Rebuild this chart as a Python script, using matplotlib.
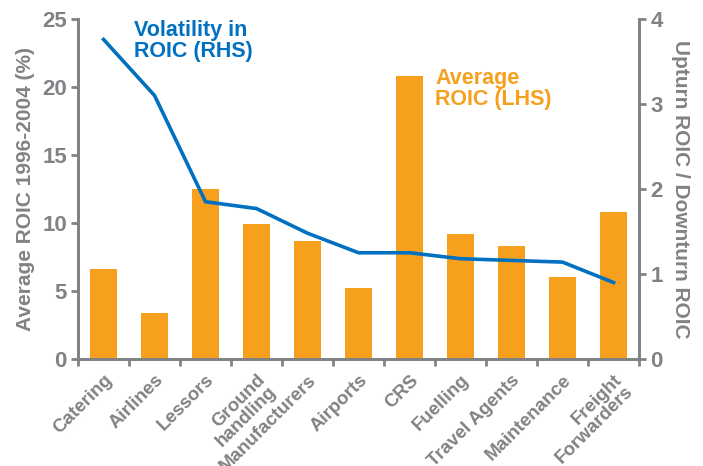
import matplotlib.pyplot as plt
import numpy as np

categories = ["Catering", "Airlines", "Lessors", "Ground\nhandling", "Manufacturers",
              "Airports", "CRS", "Fuelling", "Travel Agents", "Maintenance",
              "Freight\nForwarders"]
avg_roic = [6.6, 3.4, 12.5, 9.9, 8.7, 5.2, 20.8, 9.2, 8.3, 6.0, 10.8]
volatility = [3.76, 3.1, 1.85, 1.77, 1.48, 1.25, 1.25, 1.18, 1.16, 1.14, 0.9]

grey = "#808285"
orange = "#F7A01E"
blue = "#0070C0"

plt.rcParams['font.family'] = ['Liberation Sans', 'DejaVu Sans']
plt.rcParams['font.weight'] = 'bold'

fig = plt.figure(figsize=(7.03, 4.66), dpi=100)
ax = fig.add_axes([0.111, 0.2296, 0.798, 0.7296])
ax2 = ax.twinx()

x = np.arange(len(categories))
ax.bar(x, avg_roic, width=0.52, color=orange, zorder=2)
ax2.plot(x, volatility, color=blue, lw=2.6, zorder=3)

ax.set_xlim(-0.5, len(categories) - 0.5)
ax.set_ylim(0, 25)
ax2.set_ylim(0, 4)
ax.set_yticks(range(0, 26, 5))
ax2.set_yticks(range(0, 5))

ax.set_xticks(x)
ax.set_xticklabels(categories, rotation=45, ha='right', va='top',
                   rotation_mode='anchor', fontsize=13.5, color=grey,
                   fontweight='bold', linespacing=0.92)
ax.set_xticks(np.arange(-0.5, len(categories)), minor=True)
ax.tick_params(axis='x', which='major', length=0, pad=9)
ax.tick_params(axis='x', which='minor', length=5, width=2, color=grey, direction='out')
ax.tick_params(axis='y', length=5, width=2, color=grey, labelsize=16,
               labelcolor=grey, pad=3)
ax2.tick_params(axis='y', length=5, width=2, color=grey, labelsize=16,
                labelcolor=grey, pad=3)
for t in ax.get_yticklabels() + ax2.get_yticklabels():
    t.set_fontweight('bold')

for a in (ax, ax2):
    a.spines['top'].set_visible(False)
    for s in ('left', 'right', 'bottom'):
        a.spines[s].set_color(grey)
        a.spines[s].set_linewidth(2)

ax.set_ylabel("Average ROIC 1996-2004 (%)", fontsize=15, color=grey,
              fontweight='bold', labelpad=5)
ax2.set_ylabel("Upturn ROIC / Downturn ROIC", fontsize=15, color=grey,
               fontweight='bold', rotation=270, labelpad=20)

ax.text(0.6, 24.9, "Volatility in\nROIC (RHS)", color=blue, fontsize=15.5,
        fontweight='bold', va='top', ha='left', linespacing=1.0)
ax.text(6.5, 21.4, "Average\nROIC (LHS)", color=orange, fontsize=15.5,
        fontweight='bold', va='top', ha='left', linespacing=1.0)

fig.savefig("out.png", dpi=100)
